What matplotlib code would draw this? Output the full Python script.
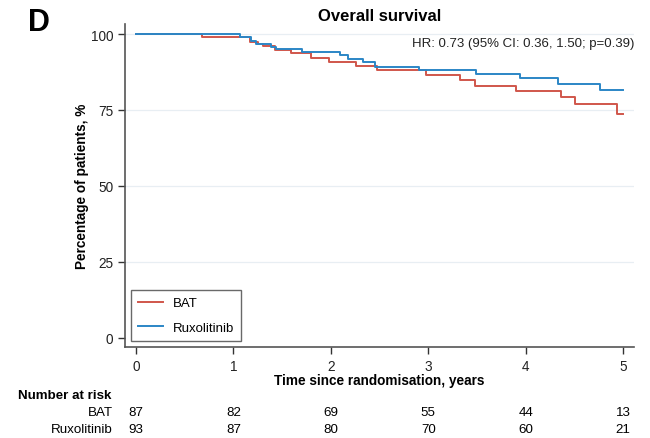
import matplotlib
matplotlib.use("Agg")
import matplotlib.pyplot as plt
import matplotlib.transforms as mtransforms

plt.rcParams['font.family'] = ['Liberation Sans', 'DejaVu Sans']

# Courbes de survie
bat_t = [0, 0.68, 1.17, 1.25, 1.30, 1.43, 1.59, 1.80, 1.98, 2.26, 2.47,
         2.98, 3.32, 3.48, 3.90, 4.36, 4.50, 4.94, 5.0]
bat_s = [100, 98.9, 97.4, 96.8, 96.1, 94.8, 93.7, 92.2, 90.9, 89.5, 88.3,
         86.6, 84.8, 82.8, 81.1, 79.1, 76.9, 73.6, 73.6]

rux_t = [0, 1.07, 1.18, 1.23, 1.39, 1.44, 1.70, 2.09, 2.18, 2.33, 2.45,
         2.90, 3.49, 3.94, 4.33, 4.76, 5.0]
rux_s = [100, 98.9, 97.8, 96.7, 95.8, 95.0, 94.2, 93.1, 91.8, 90.7, 89.3,
         88.1, 86.8, 85.4, 83.7, 81.7, 81.7]

# Nombre de patients a risque
risk_years = [0, 1, 2, 3, 4, 5]
risk_bat = [87, 82, 69, 55, 44, 13]
risk_rux = [93, 87, 80, 70, 60, 21]

y_ticks = [0, 25, 50, 75, 100]

RED = "#d0564b"
BLUE = "#2b86c6"

fig = plt.figure(figsize=(6.5, 4.39), dpi=100)
W, H = 650, 439
ax = fig.add_axes([125 / W, 1 - 348 / H, (634 - 125) / W, (348 - 25) / H])

ax.step(bat_t, bat_s, where="post", color=RED, lw=1.4, label="BAT")
ax.step(rux_t, rux_s, where="post", color=BLUE, lw=1.4, label="Ruxolitinib")

ax.set_xlim(-0.113, 5.11)
ax.set_ylim(-3.1, 103.3)
ax.set_xticks(risk_years)
ax.set_yticks(y_ticks)
for y in y_ticks[1:]:
    ax.axhline(y, color="#e8eef3", lw=0.9, zorder=0)

for s in ["top", "right"]:
    ax.spines[s].set_visible(False)
for s in ["left", "bottom"]:
    ax.spines[s].set_color("#555555")
    ax.spines[s].set_linewidth(1.2)
ax.tick_params(direction="out", length=5, width=1, color="#333333",
               labelsize=9.8, labelcolor="#222222")

ax.set_xlabel("Time since randomisation, years", fontsize=9.8,
              fontweight="bold", labelpad=0)
ax.set_ylabel("Percentage of patients, %", fontsize=9.8, fontweight="bold",
              labelpad=1)
ax.set_title("Overall survival", fontsize=12, fontweight="bold", pad=3)

ax.text(1.0, 0.941, "HR: 0.73 (95% CI: 0.36, 1.50; p=0.39)", transform=ax.transAxes,
        ha="right", va="center", fontsize=9.5, color="#222222")

leg = ax.legend(loc="lower left", bbox_to_anchor=(0.012, 0.019), fontsize=9.5,
                fancybox=False, edgecolor="#444444", handlelength=1.9,
                handletextpad=0.7, borderpad=0.55, labelspacing=0.9,
                borderaxespad=0)
leg.get_frame().set_linewidth(1.0)

fig.text(28 / W, 1 - 23 / H, "D", fontsize=22, fontweight="bold",
         ha="left", va="center")

# Tableau des patients a risque
trans = mtransforms.blended_transform_factory(ax.transData, fig.transFigure)
fig.text(18 / W, 1 - 396 / H, "Number at risk", fontsize=9.6,
         fontweight="bold", va="center")
for label, vals, ypx in [("BAT", risk_bat, 413), ("Ruxolitinib", risk_rux, 430)]:
    fig.text(113 / W, 1 - ypx / H, label, fontsize=9.6, ha="right", va="center")
    for x, v in zip(risk_years, vals):
        fig.text(x, 1 - ypx / H, str(v), transform=trans, fontsize=9.6,
                 ha="center", va="center")

fig.savefig("out.png", dpi=100)
